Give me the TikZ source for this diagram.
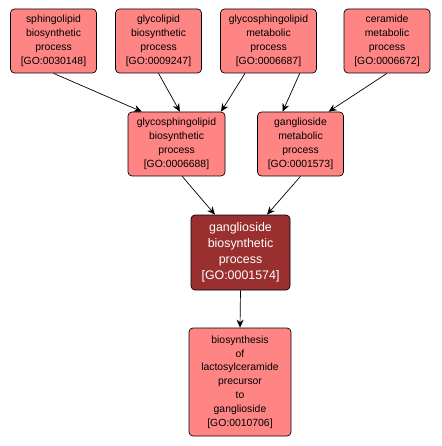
\documentclass[tikz,border=0pt]{standalone}
\usepackage{fontspec}
\setmainfont{Liberation Sans}
\usepackage{xcolor}
\usetikzlibrary{arrows.meta}
\definecolor{termfill}{HTML}{FF8585}
\definecolor{queryfill}{HTML}{9A2F2F}

\begin{document}
\begin{tikzpicture}[
  x=1pt, y=-1pt,
  term/.style={draw,rounded corners=4pt,fill=termfill,line width=0.7pt,align=center,
    inner sep=0pt,minimum height=64pt,font=\fontsize{10.4}{14.2}\selectfont},
  query/.style={term,fill=queryfill,text=white,font=\fontsize{12.4}{16}\selectfont},
  arr/.style={-{Stealth[length=8pt,width=7pt]},line width=0.7pt}
]
  \useasboundingbox (0,0) rectangle (441,446);
  \node[term, minimum width=86pt] (n1) at (53.5,41) {sphingolipid\\biosynthetic\\process\\{[GO:0030148]}};
  \node[term, minimum width=86pt] (n2) at (158.5,41) {glycolipid\\biosynthetic\\process\\{[GO:0009247]}};
  \node[term, minimum width=96pt] (n3) at (268.5,41) {glycosphingolipid\\metabolic\\process\\{[GO:0006687]}};
  \node[term, minimum width=86pt] (n4) at (387,41) {ceramide\\metabolic\\process\\{[GO:0006672]}};
  \node[term, minimum width=97pt] (n5) at (176.5,144) {glycosphingolipid\\biosynthetic\\process\\{[GO:0006688]}};
  \node[term, minimum width=86pt] (n6) at (300.5,144) {ganglioside\\metabolic\\process\\{[GO:0001573]}};
  \node[query, minimum width=99pt, minimum height=75pt] (n7) at (240.5,252.5) {ganglioside\\biosynthetic\\process\\{[GO:0001574]}};
  \node[term, minimum width=102pt, minimum height=108pt, font=\fontsize{10.4}{13.8}\selectfont] (n8) at (240,382)
    {biosynthesis\\of\\lactosylceramide\\precursor\\to\\ganglioside\\{[GO:0010706]}};

  \draw[arr] (n1.south) -- (n5.137);
  \draw[arr] (n2.south) -- (n5.84);
  \draw[arr] (n3.234) -- (n5.36);
  \draw[arr] (n3.314) -- (n6.119);
  \draw[arr] (n4.south) -- (n6.49);
  \draw[arr] (n5.280) -- (n7.124);
  \draw[arr] (n6.south) -- (n7.55);
  \draw[arr] (n7.south) -- (n8.north);
\end{tikzpicture}
\end{document}
